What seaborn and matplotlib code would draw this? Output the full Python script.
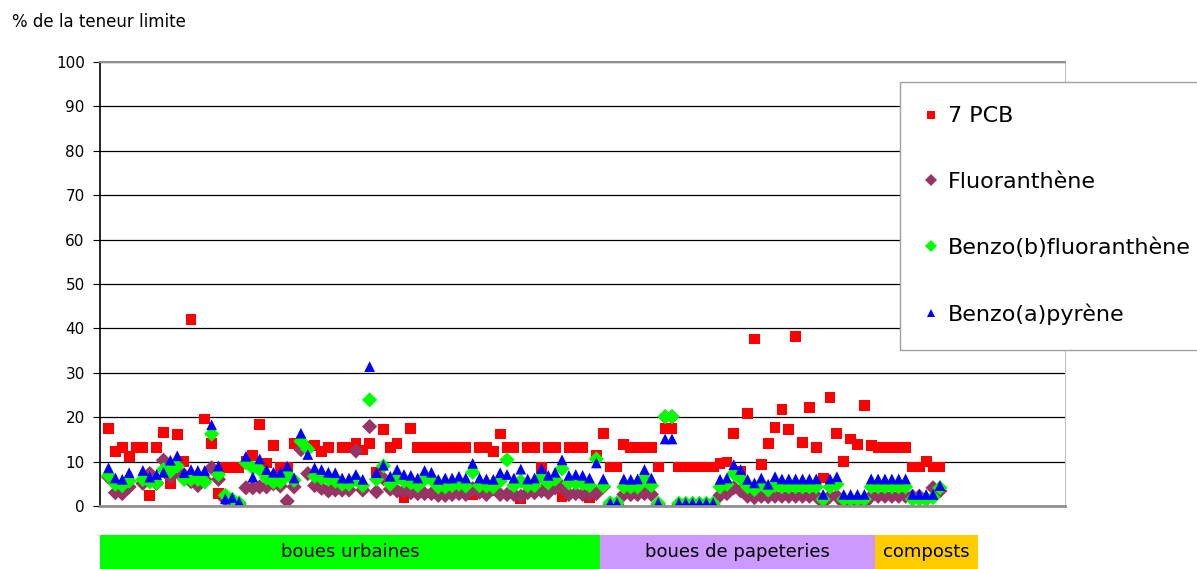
import numpy as np
import pandas as pd
import seaborn as sns
import matplotlib.pyplot as plt

nan = np.nan

series_names = ['7 PCB', 'Fluoranthène', 'Benzo(b)fluoranthène', 'Benzo(a)pyrène']
series_colors = ['#FF0000', '#993366', '#00FF00', '#0000FF']
series_markers = ['s', 'D', 'D', '^']

# % of the limit content, one value per sample
pcb = [17.5, 12.2, 13.2, 11.1, 13.2, 13.2, 2.4, 13.2, 16.6, 5.1,
       16.1, 10.1, 42.0, nan, 19.6, 14.0, 2.8, 8.7, 8.7, 8.7,
       10.1, 11.3, 18.4, 9.7, 13.7, 8.7, 8.7, 14.0, 14.0, 13.4,
       13.7, 12.3, 13.2, 4.5, 13.2, 13.2, 14.0, 12.6, 14.0, 7.5,
       17.2, 13.2, 14.0, 1.9, 17.5, 13.2, 13.2, 13.2, 13.2, 13.2,
       13.2, 13.2, 13.2, 2.6, 13.2, 13.2, 12.3, 16.2, 13.2, 13.2,
       1.7, 13.2, 13.2, 8.6, 13.2, 13.2, 2.0, 13.2, 13.2, 13.2,
       1.9, 11.3, 16.3, 8.8, 8.8, 13.8, 13.2, 13.2, 13.2, 13.2,
       8.8, 17.5, 17.5, 8.8, 8.8, 8.8, 8.8, 8.8, 8.8, 9.5,
       9.9, 16.4, 7.9, 20.8, 37.6, 9.4, 14.1, 17.7, 21.7, 17.2,
       38.2, 14.3, 22.2, 13.2, 6.3, 24.4, 16.4, 10.1, 15.1, 13.8,
       22.6, 13.7, 13.2, 13.2, 13.2, 13.2, 13.2, 8.8, 8.8, 10.1,
       8.8, 8.8]

fluor = [6.5, 3.0, 2.8, 4.3, nan, 5.1, 7.3, 5.1, 10.3, 6.5,
         7.8, 7.0, 5.5, 4.6, 6.0, 8.6, 6.0, 1.5, 1.2, 0.5,
         4.1, 4.1, 4.3, 4.3, 5.0, 4.5, 1.1, 4.3, 12.7, 7.3,
         4.6, 4.0, 3.4, 3.6, 3.6, 3.6, 12.4, 3.6, 17.9, 3.2,
         6.2, 3.8, 3.4, 3.4, 3.0, 2.8, 2.8, 2.8, 2.4, 2.4,
         2.6, 2.8, 2.6, 3.9, 3.1, 2.6, 3.9, 2.6, 2.6, 2.6,
         2.2, 3.0, 3.0, 3.4, 3.0, 4.1, 4.3, 2.6, 2.8, 2.6,
         2.6, 2.8, 4.3, 0.2, 0.2, 2.6, 2.6, 2.6, 2.8, 2.6,
         0.2, 20.1, 20.1, 0.2, 0.2, 0.2, 0.2, 0.2, 0.2, 2.4,
         2.8, 4.1, 3.4, 2.2, 1.9, 2.2, 2.1, 2.2, 2.2, 2.2,
         2.2, 2.2, 2.2, 2.2, 0.7, 2.2, 2.2, 0.6, 0.6, 0.6,
         0.6, 2.2, 2.2, 2.2, 2.2, 2.2, 2.2, 2.2, 2.2, 1.5,
         4.1, 3.4]

bbf = [6.9, 4.9, 4.6, 5.6, nan, 6.0, 5.4, 5.2, 8.2, 7.8,
       9.0, 6.0, 6.0, 6.0, 5.4, 16.2, 7.1, 2.4, 1.5, 0.7,
       9.7, 8.6, 8.2, 6.3, 5.4, 5.4, 7.1, 5.8, 14.6, 12.8,
       6.7, 6.3, 6.0, 5.6, 4.9, 4.9, 6.0, 4.6, 23.9, 6.0,
       9.0, 4.9, 6.3, 5.6, 5.2, 4.6, 6.0, 6.0, 4.3, 4.3,
       4.6, 4.9, 4.5, 7.6, 4.6, 4.5, 4.3, 5.6, 10.4, 4.6,
       5.6, 4.6, 4.6, 6.6, 5.2, 6.0, 8.4, 5.2, 5.2, 5.1,
       4.6, 10.6, 4.5, 0.7, 0.7, 4.3, 4.3, 4.3, 6.3, 4.6,
       0.6, 20.1, 20.1, 0.6, 0.6, 0.6, 0.6, 0.6, 0.6, 4.3,
       4.9, 7.3, 6.1, 4.3, 3.7, 4.9, 3.6, 4.6, 4.3, 4.3,
       4.3, 4.3, 4.3, 4.3, 1.5, 4.3, 4.9, 1.5, 1.5, 1.5,
       1.5, 4.3, 4.3, 4.3, 4.3, 4.3, 4.3, 1.5, 1.5, 1.5,
       1.9, 4.1]

bap = [8.6, 6.3, 6.0, 7.5, nan, 8.0, 6.5, 7.1, 7.6, 10.3,
       11.3, 7.5, 8.2, 8.0, 8.0, 18.3, 9.0, 1.6, 1.9, 0.9,
       11.2, 6.5, 10.6, 8.2, 7.6, 7.6, 9.0, 6.3, 16.4, 11.6,
       8.6, 8.2, 7.6, 7.5, 6.3, 6.3, 7.1, 6.0, 31.4, 7.5,
       9.2, 6.7, 8.2, 7.1, 6.9, 6.3, 8.0, 7.6, 6.0, 6.3,
       6.3, 6.7, 6.3, 9.6, 6.3, 6.1, 6.0, 7.5, 7.1, 6.3,
       8.3, 6.1, 6.3, 8.4, 6.9, 7.6, 10.4, 6.9, 7.1, 6.9,
       6.3, 9.7, 6.1, 0.7, 0.7, 6.1, 6.0, 6.1, 8.2, 6.3,
       0.7, 15.1, 15.1, 0.7, 0.7, 0.7, 0.7, 0.7, 0.7, 6.0,
       6.3, 9.3, 8.2, 6.0, 5.2, 6.3, 4.9, 6.6, 6.1, 6.1,
       6.1, 6.1, 6.1, 6.1, 2.6, 6.1, 6.6, 2.6, 2.6, 2.6,
       2.6, 6.1, 6.1, 6.1, 6.1, 6.1, 6.1, 2.6, 2.6, 2.6,
       2.6, 4.6]

groups = ['boues urbaines', 'boues de papeteries', 'composts']
group_sizes = [72, 40, 10]
group_colors = ['#00FF00', '#CC99FF', '#FFCC00']

y_ticks = list(range(0, 101, 10))

# long table for seaborn
frames = []
for name, vals in zip(series_names, [pcb, fluor, bbf, bap]):
    frames.append(pd.DataFrame({'sample': np.arange(len(vals)), 'value': vals, 'series': name}))
df = pd.concat(frames, ignore_index=True).dropna()

sns.set_style('white')
plt.rcParams['font.family'] = ['DejaVu Sans']
plt.rcParams['text.color'] = 'black'
plt.rcParams['ytick.color'] = 'black'
plt.rcParams['ytick.labelcolor'] = 'black'

W, H = 1197, 569
fig = plt.figure(figsize=(W / 100, H / 100), dpi=100)
ax = fig.add_axes([100 / W, 1 - 506 / H, 965 / W, 444 / H])

sns.scatterplot(data=df, x='sample', y='value', hue='series', style='series',
                hue_order=series_names, style_order=series_names,
                palette=dict(zip(series_names, series_colors)),
                markers=dict(zip(series_names, series_markers)),
                s=60, linewidth=0, ax=ax, legend=True)

x_lo, x_hi = -1.24, 139.2
ax.set_xlim(x_lo, x_hi)
ax.set_ylim(0, 100)
ax.set_yticks(y_ticks)
ax.set_xticks([])
ax.set_xlabel('')
ax.set_ylabel('')
ax.yaxis.grid(True, color='black', linewidth=0.9)
ax.set_axisbelow(True)
ax.tick_params(axis='y', left=True, length=5, width=0.8, labelsize=11, pad=6)
ax.spines['left'].set_color('black')
ax.spines['left'].set_linewidth(1.2)
ax.spines['bottom'].set_color('#909090')
ax.spines['bottom'].set_linewidth(2)
ax.spines['top'].set_color('#909090')
ax.spines['top'].set_linewidth(1.5)
ax.spines['right'].set_color('#c0c0c0')
ax.spines['right'].set_linewidth(0.8)

fig.text(12 / W, 1 - 22 / H, '% de la teneur limite', fontsize=12, va='center', ha='left')

# legend box on the right, overflowing the figure edge like the original
handles, labels = ax.get_legend_handles_labels()
ax.get_legend().remove()
leg = fig.legend(handles, labels, loc='upper left', bbox_to_anchor=(900 / W, 1 - 82 / H),
                 fontsize=16, frameon=True, fancybox=False, edgecolor='#a0a0a0',
                 framealpha=1, facecolor='white',
                 labelspacing=2.05, borderpad=1.1, handlelength=0.55, handletextpad=0.5,
                 markerscale=0.75, borderaxespad=0)
leg.get_frame().set_linewidth(1)

# category band below the plot
bax = fig.add_axes([100 / W, 0, 965 / W, 34 / H])
edges = [x_lo]
pos = -0.5
for n in group_sizes:
    pos += n
    edges.append(pos)
edges[-1] += 5
for g, c, a, b in zip(groups, group_colors, edges[:-1], edges[1:]):
    bax.barh(0, b - a, left=a, height=1, color=c, edgecolor='none')
    bax.text((a + b) / 2, 0, g, ha='center', va='center', fontsize=13)
bax.set_xlim(x_lo, x_hi)
bax.set_ylim(-0.5, 0.5)
bax.axis('off')

fig.savefig('out.png', dpi=100)
